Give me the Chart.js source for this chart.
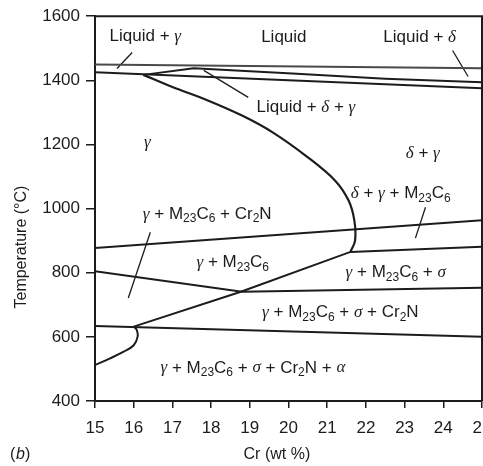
<!DOCTYPE html>
<html>
<head>
<meta charset="utf-8">
<script src="https://cdn.jsdelivr.net/npm/chart.js@4"></script>
<style>
  html, body { margin: 0; padding: 0; background: #fff; }
  canvas { display: block; }
</style>
</head>
<body>
<canvas id="diagram" width="483" height="466"></canvas>
<script>
(function() {
  'use strict';

  // axes
  const crMin = 15, crMax = 25, crStep = 1;
  const tempMin = 400, tempMax = 1600, tempStep = 200;

  // phase boundaries: Cr (wt %) / temperature (°C)
  const liquidusCr = [15, 25];
  const liquidusT = [1449, 1438];
  const solidusCr = [15, 25];
  const solidusT = [1425, 1375];
  const peritecticCr = [16.25, 17.55, 20.1, 22.5, 25];
  const peritecticT = [1417, 1438, 1421, 1405, 1394];
  const gammaCr = [16.25, 17.0, 17.9, 18.8, 19.6, 20.5, 21.2, 21.55, 21.7, 21.72, 21.6];
  const gammaT = [1417, 1379, 1338, 1290, 1237, 1160, 1088, 1026, 964, 900, 865];
  const cr2nCr = [15, 25];
  const cr2nT = [877, 964];
  const carbideCr = [16.0, 18.75, 21.6, 25];
  const carbideT = [632, 740, 865, 881];
  const sigmaCr = [15, 18.8, 25];
  const sigmaT = [805, 741, 753];
  const alphaCr = [15, 25];
  const alphaT = [634, 600];
  const noseCr = [15, 15.39, 15.74, 16.0, 16.1, 16.08, 16.0];
  const noseT = [512, 533, 554, 574, 600, 621, 632];

  // leader lines from labels
  const leaderCr = [[15.96, 15.57], [17.81, 18.96], [24.24, 24.64], [16.43, 15.86], [23.54, 23.28]];
  const leaderT = [[1487, 1437], [1431, 1347], [1493, 1412], [926, 721], [1004, 908]];

  // region names, _{..} = subscript
  const phaseNames = [
    'Liquid + γ', 'Liquid', 'Liquid + δ', 'γ', 'Liquid + δ + γ', 'δ + γ',
    'δ + γ + M_{23}C_{6}', 'γ + M_{23}C_{6} + Cr_{2}N', 'γ + M_{23}C_{6}',
    'γ + M_{23}C_{6} + σ', 'γ + M_{23}C_{6} + σ + Cr_{2}N', 'γ + M_{23}C_{6} + σ + Cr_{2}N + α'
  ];
  const phaseCr = [16.3, 19.88, 23.39, 16.35, 20.45, 23.47, 22.9, 17.9, 18.56, 22.77, 21.34, 19.08];
  const phaseT = [1537, 1534, 1534, 1207, 1316, 1173, 1048, 983, 833, 802, 677, 503];

  const ink = '#1c1c1c';
  const sans = '"Liberation Sans", Arial, sans-serif';

  function line(xs, ys, width, color, tension) {
    return {
      data: xs.map(function(x, i) { return { x: x, y: ys[i] }; }),
      showLine: true,
      borderColor: color || ink,
      borderWidth: width,
      pointRadius: 0,
      tension: tension || 0,
      fill: false
    };
  }

  function richText(ctx, str, cx, cy, size) {
    const parts = [];
    const re = /_\{([^}]*)\}|([γδσα])|([^_γδσα]+)/g;
    let m;
    while ((m = re.exec(str)) !== null) {
      if (m[1] !== undefined) parts.push({ t: m[1], f: Math.round(size * 0.68) + 'px ' + sans, dy: size * 0.3 });
      else if (m[2] !== undefined) parts.push({ t: m[2], f: 'italic ' + size + 'px "Liberation Serif", serif', dy: 0 });
      else parts.push({ t: m[3], f: size + 'px ' + sans, dy: 0 });
    }
    let w = 0;
    parts.forEach(function(p) { ctx.font = p.f; p.w = ctx.measureText(p.t).width; w += p.w; });
    let px = cx - w / 2;
    ctx.textAlign = 'left';
    ctx.textBaseline = 'middle';
    parts.forEach(function(p) { ctx.font = p.f; ctx.fillText(p.t, px, cy + p.dy); px += p.w; });
  }

  const textPlugin = {
    id: 'phaseText',
    afterDraw: function(chart) {
      const ctx = chart.ctx, a = chart.chartArea;
      const x = chart.scales.x, y = chart.scales.y;
      ctx.save();

      // top and right frame
      ctx.strokeStyle = ink;
      ctx.lineWidth = 2;
      ctx.beginPath();
      ctx.moveTo(a.left, a.top);
      ctx.lineTo(a.right, a.top);
      ctx.lineTo(a.right, a.bottom);
      ctx.stroke();

      ctx.fillStyle = ink;
      phaseNames.forEach(function(name, i) {
        richText(ctx, name, x.getPixelForValue(phaseCr[i]), y.getPixelForValue(phaseT[i]), 17);
      });

      // axis titles
      ctx.font = '16px ' + sans;
      ctx.textAlign = 'center';
      ctx.textBaseline = 'middle';
      ctx.fillText('Cr (wt %)', x.getPixelForValue(19.7), 455);
      ctx.save();
      ctx.translate(22, y.getPixelForValue(880));
      ctx.rotate(-Math.PI / 2);
      ctx.fillText('Temperature (°C)', 0, 0);
      ctx.restore();

      ctx.textAlign = 'left';
      ctx.fillText('(', 10, 455);
      ctx.font = 'italic 16px ' + sans;
      ctx.fillText('b', 16, 455);
      ctx.font = '16px ' + sans;
      ctx.fillText(')', 25, 455);
      ctx.restore();
    }
  };

  const datasets = [
    line(liquidusCr, liquidusT, 2, '#4a4a4a'),
    line(solidusCr, solidusT, 2),
    line(peritecticCr, peritecticT, 2),
    line(gammaCr, gammaT, 2.2, ink, 0.35),
    line(cr2nCr, cr2nT, 2),
    line(carbideCr, carbideT, 2),
    line(sigmaCr, sigmaT, 2),
    line(alphaCr, alphaT, 2),
    line(noseCr, noseT, 2, ink, 0.4)
  ];
  leaderCr.forEach(function(xs, i) {
    datasets.push(line(xs, leaderT[i], 1.3));
  });

  new Chart(document.getElementById('diagram'), {
    type: 'scatter',
    data: { datasets: datasets },
    options: {
      responsive: false,
      animation: false,
      layout: { padding: { top: 16, right: 1, left: 0, bottom: 0 } },
      plugins: { legend: { display: false }, tooltip: { enabled: false } },
      scales: {
        x: {
          type: 'linear',
          min: crMin,
          max: crMax,
          ticks: {
            stepSize: crStep, color: ink, font: { family: sans, size: 17 }, padding: 10, maxRotation: 0,
            callback: function(v) { return String(v); }
          },
          grid: { drawOnChartArea: false, color: ink, lineWidth: 1.5, tickLength: 7 },
          border: { color: ink, width: 2 },
          afterFit: function(scale) {
            scale.height = 65;
            scale.paddingLeft = 0;
            scale.paddingRight = 0;
          }
        },
        y: {
          type: 'linear',
          min: tempMin,
          max: tempMax,
          ticks: {
            stepSize: tempStep, color: ink, font: { family: sans, size: 17 }, padding: 6,
            callback: function(v) { return String(v); }
          },
          grid: { drawOnChartArea: false, color: ink, lineWidth: 1.5, tickLength: 9 },
          border: { color: ink, width: 2 },
          afterFit: function(scale) {
            scale.width = 95;
          }
        }
      }
    },
    plugins: [textPlugin]
  });

})();
</script>
</body>
</html>
